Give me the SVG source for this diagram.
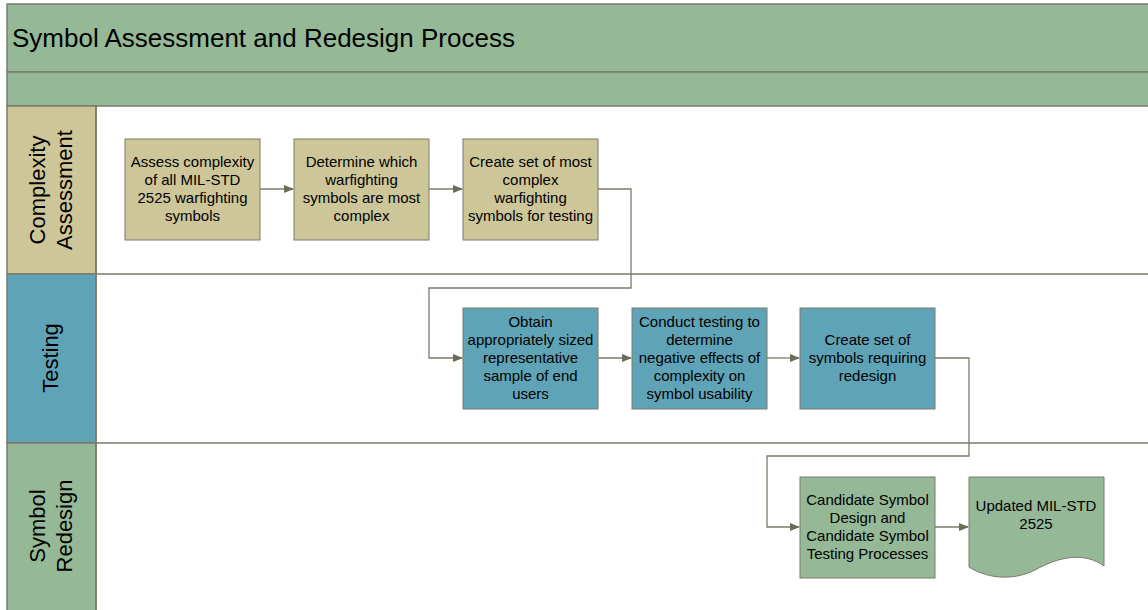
<svg xmlns="http://www.w3.org/2000/svg" width="1148" height="610" viewBox="0 0 1148 610">
<defs>
<style>
.frame{stroke:#7b7b69;stroke-width:1.5}
.node{stroke:#7b7b69;stroke-width:1}
.tan{fill:#cdc699}
.blue{fill:#5fa3b6}
.green{fill:#95b996}
.t{font-family:"Liberation Sans",Arial,sans-serif;font-size:15px;fill:#000;text-anchor:middle}
.lane{font-family:"Liberation Sans",Arial,sans-serif;font-size:22px;fill:#000;text-anchor:middle}
.conn{fill:none;stroke:#7b7b69;stroke-width:1.3}
</style>
<marker id="ah" markerWidth="10" markerHeight="8" refX="9" refY="4" orient="auto" markerUnits="userSpaceOnUse">
<path d="M0,0 L10,4 L0,8 Z" fill="#6b6b57"/>
</marker>
</defs>
<rect width="1148" height="610" fill="#fff"/>
<g id="pool">
<rect class="green frame" x="7" y="4" width="1150" height="68"/>
<text x="12" y="47" font-family="Liberation Sans, Arial, sans-serif" font-size="26" fill="#000">Symbol Assessment and Redesign Process</text>
<rect class="green frame" x="7" y="72" width="1150" height="34"/>
</g>
<g id="lanes">
<rect class="tan frame" x="7" y="106" width="89" height="168"/>
<rect class="blue frame" x="7" y="274" width="89" height="169"/>
<rect class="green frame" x="7" y="443" width="89" height="170"/>
<line class="frame" x1="96" y1="274" x2="1148" y2="274"/>
<line class="frame" x1="96" y1="443" x2="1148" y2="443"/>
<line class="frame" x1="96" y1="106" x2="96" y2="610"/>
<text class="lane" transform="translate(45,190) rotate(-90)">Complexity</text>
<text class="lane" transform="translate(72,190) rotate(-90)">Assessment</text>
<text class="lane" transform="translate(58,358) rotate(-90)">Testing</text>
<text class="lane" transform="translate(45,526) rotate(-90)">Symbol</text>
<text class="lane" transform="translate(72,526) rotate(-90)">Redesign</text>
</g>
<g id="connectors">
<path class="conn" d="M260,189 H293" marker-end="url(#ah)"/>
<path class="conn" d="M429,189 H462" marker-end="url(#ah)"/>
<path class="conn" d="M598,189 H631 V288 H429 V358 H462" marker-end="url(#ah)"/>
<path class="conn" d="M598,358 H631" marker-end="url(#ah)"/>
<path class="conn" d="M767,358 H799" marker-end="url(#ah)"/>
<path class="conn" d="M935,358 H969 V456 H767 V527 H799" marker-end="url(#ah)"/>
<path class="conn" d="M935,527 H968" marker-end="url(#ah)"/>
</g>
<g id="n1">
<rect class="node tan" x="125" y="139" width="135" height="101"/>
<text class="t"><tspan x="192.5" y="167">Assess complexity</tspan><tspan x="192.5" y="185">of all MIL-STD</tspan><tspan x="192.5" y="203">2525 warfighting</tspan><tspan x="192.5" y="221">symbols</tspan></text>
</g>
<g id="n2">
<rect class="node tan" x="294" y="139" width="135" height="101"/>
<text class="t"><tspan x="361.5" y="167">Determine which</tspan><tspan x="361.5" y="185">warfighting</tspan><tspan x="361.5" y="203">symbols are most</tspan><tspan x="361.5" y="221">complex</tspan></text>
</g>
<g id="n3">
<rect class="node tan" x="463" y="139" width="135" height="101"/>
<text class="t"><tspan x="530.5" y="167">Create set of most</tspan><tspan x="530.5" y="185">complex</tspan><tspan x="530.5" y="203">warfighting</tspan><tspan x="530.5" y="221">symbols for testing</tspan></text>
</g>
<g id="n4">
<rect class="node blue" x="463" y="308" width="135" height="101"/>
<text class="t"><tspan x="530.5" y="327">Obtain</tspan><tspan x="530.5" y="345">appropriately sized</tspan><tspan x="530.5" y="363">representative</tspan><tspan x="530.5" y="381">sample of end</tspan><tspan x="530.5" y="399">users</tspan></text>
</g>
<g id="n5">
<rect class="node blue" x="632" y="308" width="135" height="101"/>
<text class="t"><tspan x="699.5" y="327">Conduct testing to</tspan><tspan x="699.5" y="345">determine</tspan><tspan x="699.5" y="363">negative effects of</tspan><tspan x="699.5" y="381">complexity on</tspan><tspan x="699.5" y="399">symbol usability</tspan></text>
</g>
<g id="n6">
<rect class="node blue" x="800" y="308" width="135" height="101"/>
<text class="t"><tspan x="867.5" y="345">Create set of</tspan><tspan x="867.5" y="363">symbols requiring</tspan><tspan x="867.5" y="381">redesign</tspan></text>
</g>
<g id="n7">
<rect class="node green" x="800" y="477" width="135" height="101"/>
<text class="t"><tspan x="867.5" y="505">Candidate Symbol</tspan><tspan x="867.5" y="523">Design and</tspan><tspan x="867.5" y="541">Candidate Symbol</tspan><tspan x="867.5" y="559">Testing Processes</tspan></text>
</g>
<g id="n8">
<path class="node green" d="M969,477 H1104 V566 C1085,552 1060,556 1035,570 C1015,580 990,580 969,567 Z"/>
<text class="t"><tspan x="1036" y="511">Updated MIL-STD</tspan><tspan x="1036" y="529">2525</tspan></text>
</g>
</svg>
